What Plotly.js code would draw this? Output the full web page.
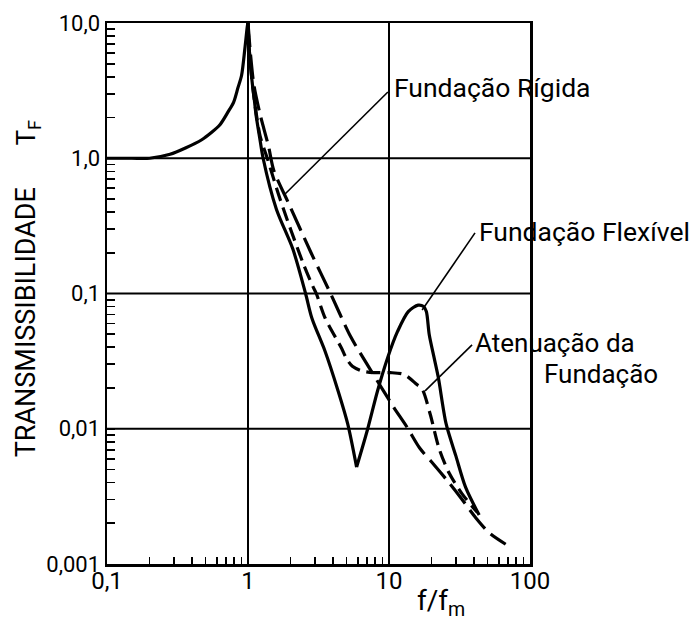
<!DOCTYPE html>
<html>
<head>
<meta charset="utf-8">
<script src="https://cdn.plot.ly/plotly-3.0.1.min.js"></script>
<style>html,body{margin:0;padding:0;background:#fff;}#chart{width:695px;height:624px;}</style>
</head>
<body>
<div id="chart"></div>
<script>
// ---- data ----
// common branch below resonance (0.1 .. 1)
const baseX = [0.1, 0.15, 0.2, 0.28, 0.36, 0.47, 0.55, 0.63, 0.72, 0.79, 0.85, 0.9, 0.95, 0.99, 1.0];
const baseY = [1.0, 1.0, 1.0, 1.07, 1.19, 1.37, 1.55, 1.76, 2.19, 2.59, 3.34, 4.09, 6.45, 9.5, 10];

// Fundação Flexível (solid) – falling part down to the notch
const flexDownX = [1.0, 1.02, 1.07, 1.11, 1.14, 1.21, 1.28, 1.59, 2.08, 2.56, 2.84, 3.52, 4.35, 5.09, 5.89];
const flexDownY = [10, 6.4, 3.67, 2.68, 2.1, 1.42, 1.0, 0.42, 0.213, 0.1, 0.0656, 0.0374, 0.0191, 0.0109, 0.0052];
// Fundação Flexível (solid) – from the notch over the second peak
const flexUpX = [5.89, 7.01, 8.3, 9.77, 11.5, 13.7, 16.1, 17.6, 18.4, 19.3, 20.9, 22.4, 25.4, 29.8, 34.9, 43.6];
const flexUpY = [0.0052, 0.0097, 0.0191, 0.0334, 0.0524, 0.0735, 0.082, 0.08, 0.0735, 0.0495, 0.0334, 0.0238, 0.0109, 0.0063, 0.0037, 0.0023];

// Atenuação da Fundação (short dashes)
const atenX = [1.0, 1.02, 1.07, 1.14, 1.22, 1.37, 1.69, 2.44, 2.86, 3.05, 3.53, 4.6, 5.0, 5.5, 6.47, 7.81, 10.2, 12.8, 15.7, 17.2, 19.6, 22.7, 26.7, 33.0, 42.4];
const atenY = [10, 6.4, 3.67, 2.2, 1.45, 1.0, 0.497, 0.171, 0.115, 0.1, 0.0656, 0.0395, 0.033, 0.029, 0.0267, 0.026, 0.026, 0.0252, 0.0213, 0.0196, 0.0128, 0.0071, 0.0047, 0.0033, 0.0024];

// Fundação Rígida (long dashes)
const rigX = [1.0, 1.04, 1.1, 1.22, 1.40, 1.52, 1.98, 2.8, 3.85, 5.33, 7.0, 9.16, 10.8, 13.4, 16.5, 20, 26.6, 33, 41.2, 51.4, 67.2];
const rigY = [10, 6.0, 3.5, 2.1, 1.22, 0.82, 0.444, 0.2, 0.1, 0.0482, 0.0299, 0.019, 0.0144, 0.0103, 0.0072, 0.0057, 0.004, 0.003, 0.0022, 0.0017, 0.0014];

// tick labels (decades) and unlabelled small log ticks
const xTickVals = [0.1, 1, 10, 100];
const xTickText = ['0,1', '1', '10', '100'];
const yTickVals = [0.001, 0.01, 0.1, 1, 10];
const yTickText = ['0,001', '0,01', '0,1', '1,0', '10,0'];
const xMinorVals = [0.2, 0.3, 0.4, 0.5, 0.6, 0.7, 0.8, 0.9, 2, 3, 4, 5, 6, 7, 8, 9, 20, 30, 40, 50, 60, 70, 80, 90];
const yMinorVals = [0.002, 0.003, 0.004, 0.005, 0.006, 0.007, 0.008, 0.009,
                    0.02, 0.03, 0.04, 0.05, 0.06, 0.07, 0.08, 0.09,
                    0.2, 0.3, 0.4, 0.5, 0.6, 0.7, 0.8, 0.9,
                    2, 3, 4, 5, 6, 7, 8, 9];

const FONT = 'Roboto';
const INK = '#000000';
const LW = 3.2;

const solid = {color: INK, width: LW, shape: 'spline', smoothing: 0.8};
const traces = [
  {x: baseX, y: baseY, mode: 'lines', line: solid, hoverinfo: 'skip'},
  {x: rigX, y: rigY, mode: 'lines', line: {color: INK, width: LW, dash: '24px,8px', shape: 'spline', smoothing: 0.8}, hoverinfo: 'skip'},
  {x: atenX, y: atenY, mode: 'lines', line: {color: INK, width: LW, dash: '14px,7px', shape: 'spline', smoothing: 0.8}, hoverinfo: 'skip'},
  {x: flexDownX, y: flexDownY, mode: 'lines', line: solid, hoverinfo: 'skip'},
  {x: flexUpX, y: flexUpY, mode: 'lines', line: solid, hoverinfo: 'skip'}
];

function lbl(text, x, y, opts) {
  return Object.assign({text: text, x: x, y: y, xref: 'paper', yref: 'paper', showarrow: false,
    xanchor: 'left', yanchor: 'middle', font: {family: FONT, size: 26, color: INK}}, opts || {});
}
function leader(x0, y0, x1, y1) {
  return {type: 'line', xref: 'paper', yref: 'paper', x0: x0, y0: y0, x1: x1, y1: y1,
    line: {color: INK, width: 1.6}};
}

// decade grid lines, taken from the labelled tick arrays
const gridShapes = []
  .concat(xTickVals.slice(1, -1).map(v => ({type: 'line', layer: 'below', xref: 'x', yref: 'paper',
      x0: v, x1: v, y0: 0, y1: 1, line: {color: INK, width: 2}})))
  .concat(yTickVals.slice(1, -1).map(v => ({type: 'line', layer: 'below', xref: 'paper', yref: 'y',
      x0: 0, x1: 1, y0: v, y1: v, line: {color: INK, width: 2}})));

const layout = {
  width: 695, height: 624,
  margin: {l: 107, r: 165, t: 23, b: 60},
  paper_bgcolor: '#ffffff', plot_bgcolor: '#ffffff',
  showlegend: false,
  font: {family: FONT, color: INK},
  xaxis: {
    type: 'log', range: [-1, 2],
    tickmode: 'array', tickvals: xTickVals.concat(xMinorVals),
    ticktext: xTickText.concat(xMinorVals.map(() => '')),
    ticks: 'inside', ticklen: 7, tickwidth: 1.7, tickcolor: INK,
    showgrid: false, showline: true, linecolor: INK, linewidth: 2.5, mirror: true,
    zeroline: false, tickfont: {family: FONT, size: 24, color: INK},
    ticklabelstandoff: -6
  },
  yaxis: {
    type: 'log', range: [-3, 1],
    tickmode: 'array', tickvals: yTickVals.concat(yMinorVals),
    ticktext: yTickText.concat(yMinorVals.map(() => '')),
    ticks: 'inside', ticklen: 8, tickwidth: 1.7, tickcolor: INK,
    showgrid: false, showline: true, linecolor: INK, linewidth: 2.5, mirror: true,
    zeroline: false, tickfont: {family: FONT, size: 22, color: INK}
  },
  annotations: [
    lbl('Fundação Rígida', 0.674, 0.880, {font: {family: FONT, size: 26.5, color: INK}}),
    lbl('Fundação Flexível', 0.875, 0.614, {font: {family: FONT, size: 26.5, color: INK}}),
    lbl('Atenuação da', 0.865, 0.4085),
    lbl('Fundação', 1.028, 0.351),
    lbl('TRANSMISSIBILIDADE', -0.1925, 0.446, {xanchor: 'center', textangle: -90, font: {family: FONT, size: 27, color: INK}}),
    lbl('T<sub>F</sub>', -0.188, 0.7985, {xanchor: 'center', textangle: -90, font: {family: FONT, size: 26, color: INK}}),
    lbl('f/f<sub>m</sub>', 0.790, -0.072, {xanchor: 'center', font: {family: FONT, size: 28, color: INK}})
  ],
  shapes: gridShapes.concat([
    leader(0.664, 0.8725, 0.421, 0.684),
    leader(0.870, 0.612, 0.745, 0.4695),
    leader(0.863, 0.405, 0.752, 0.320)
  ])
};

Plotly.newPlot('chart', traces, layout, {staticPlot: true, displayModeBar: false});
</script>
</body>
</html>
